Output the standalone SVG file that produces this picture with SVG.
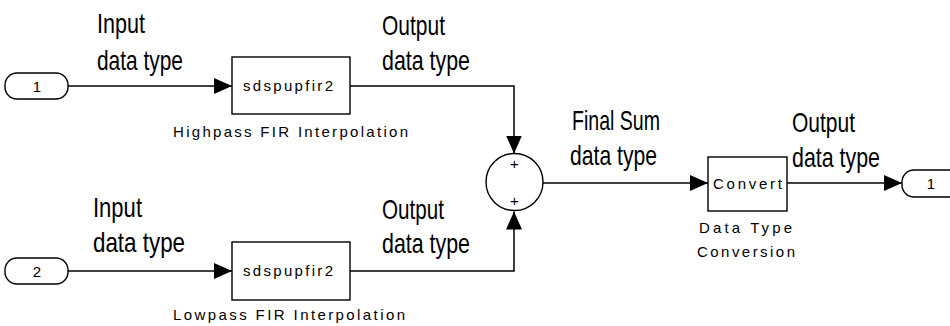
<svg xmlns="http://www.w3.org/2000/svg" width="950" height="326" viewBox="0 0 950 326">
<style>
.blk{fill:#fff;stroke:#000;stroke-width:1.4}
.ln{fill:none;stroke:#000;stroke-width:1.5}
.lbl{font-family:"Liberation Sans",Arial,sans-serif;font-size:28px;fill:#000}
.sm{font-family:"Liberation Sans",Arial,sans-serif;font-size:15px;fill:#000}
.mid{text-anchor:middle}
</style>
<defs>
<marker id="arr" markerUnits="userSpaceOnUse" markerWidth="20" markerHeight="18" refX="18" refY="8" orient="auto">
<path d="M0,0 L18,8 L0,16 z" fill="#000"/>
</marker>
</defs>
<g id="connectors">
<path class="ln" d="M68,86 H232" marker-end="url(#arr)"/>
<path class="ln" d="M68,271 H232" marker-end="url(#arr)"/>
<path class="ln" d="M350,86 H514 V153.5" marker-end="url(#arr)"/>
<path class="ln" d="M350,271 H514 V211.5" marker-end="url(#arr)"/>
<path class="ln" d="M543,183 H708" marker-end="url(#arr)"/>
<path class="ln" d="M787,183 H902" marker-end="url(#arr)"/>
</g>
<g id="in1">
<rect class="blk" x="5" y="73" width="63" height="26" rx="12" ry="12"/>
<text class="sm mid" x="37" y="91.5">1</text>
</g>
<g id="in2">
<rect class="blk" x="5" y="258" width="63" height="26" rx="12" ry="12"/>
<text class="sm mid" x="37" y="276.5">2</text>
</g>
<g id="highpass">
<rect class="blk" x="232" y="57" width="118" height="57"/>
<text class="sm" x="243" y="90.5" textLength="90" lengthAdjust="spacing">sdspupfir2</text>
<text class="sm" x="173" y="137" textLength="235" lengthAdjust="spacing">Highpass FIR Interpolation</text>
</g>
<g id="lowpass">
<rect class="blk" x="232" y="242" width="118" height="58"/>
<text class="sm" x="243" y="275.5" textLength="90" lengthAdjust="spacing">sdspupfir2</text>
<text class="sm" x="173" y="320" textLength="232" lengthAdjust="spacing">Lowpass FIR Interpolation</text>
</g>
<g id="sum">
<circle class="blk" cx="514.5" cy="182" r="28.5"/>
<text class="sm mid" x="514.5" y="169">+</text>
<text class="sm mid" x="514.5" y="206">+</text>
</g>
<g id="convert">
<rect class="blk" x="708" y="157" width="79" height="54"/>
<text class="sm" x="713" y="188.5" textLength="69" lengthAdjust="spacing">Convert</text>
<text class="sm" x="699" y="233" textLength="93" lengthAdjust="spacing">Data Type</text>
<text class="sm" x="697" y="257" textLength="98" lengthAdjust="spacing">Conversion</text>
</g>
<g id="out1">
<rect class="blk" x="902" y="170" width="70" height="27" rx="12" ry="12"/>
<text class="sm mid" x="931" y="189">1</text>
</g>
<g id="labels">
<text class="lbl" x="97" y="33" textLength="48" lengthAdjust="spacingAndGlyphs">Input</text>
<text class="lbl" x="97" y="70" textLength="86" lengthAdjust="spacingAndGlyphs">data type</text>
<text class="lbl" x="382" y="35" textLength="63" lengthAdjust="spacingAndGlyphs">Output</text>
<text class="lbl" x="382" y="70" textLength="88" lengthAdjust="spacingAndGlyphs">data type</text>
<text class="lbl" x="93" y="217" textLength="49" lengthAdjust="spacingAndGlyphs">Input</text>
<text class="lbl" x="93" y="252" textLength="92" lengthAdjust="spacingAndGlyphs">data type</text>
<text class="lbl" x="382" y="219" textLength="62" lengthAdjust="spacingAndGlyphs">Output</text>
<text class="lbl" x="382" y="253" textLength="88" lengthAdjust="spacingAndGlyphs">data type</text>
<text class="lbl" x="572" y="130" textLength="88" lengthAdjust="spacingAndGlyphs">Final Sum</text>
<text class="lbl" x="570" y="165" textLength="87" lengthAdjust="spacingAndGlyphs">data type</text>
<text class="lbl" x="792" y="132" textLength="63" lengthAdjust="spacingAndGlyphs">Output</text>
<text class="lbl" x="792" y="167" textLength="88" lengthAdjust="spacingAndGlyphs">data type</text>
</g>
</svg>
